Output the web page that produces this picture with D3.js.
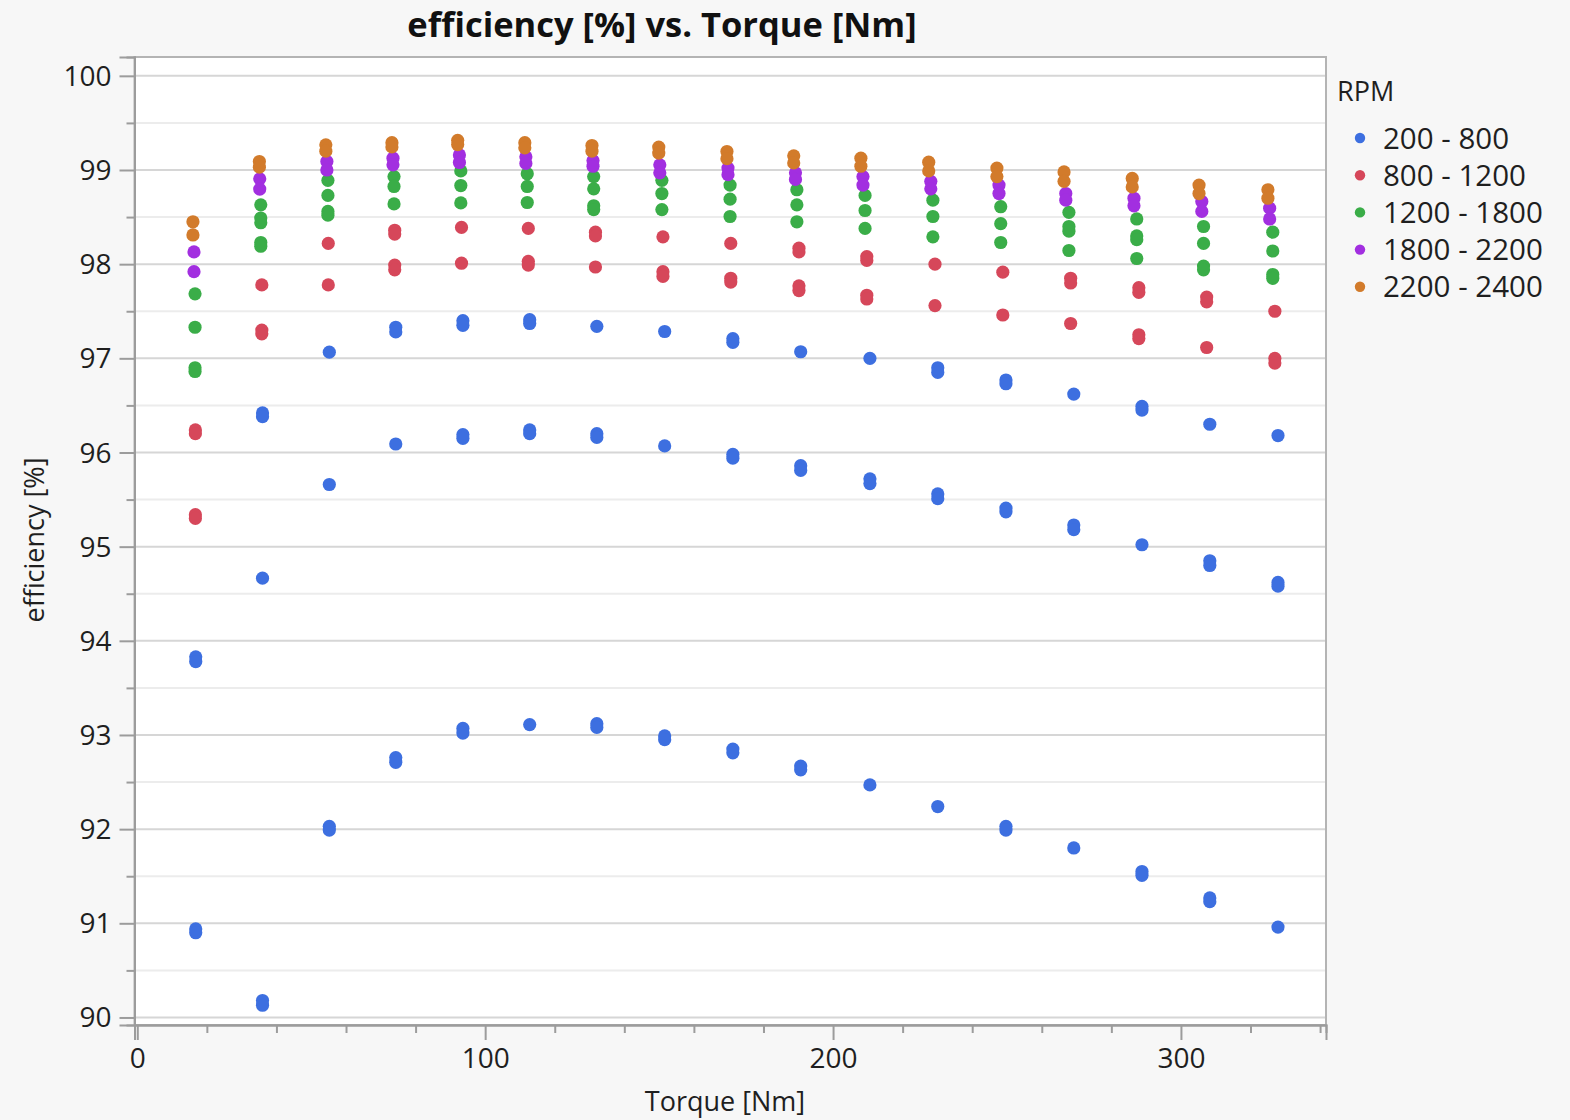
<!DOCTYPE html>
<html>
<head>
<meta charset="utf-8">
<script src="https://cdn.jsdelivr.net/npm/d3@7"></script>
<style>
  body { margin: 0; background: #f7f7f7; }
  svg { display: block; font-family: "Open Sans", "Noto Sans", sans-serif; }
</style>
</head>
<body>
<svg id="chart" width="1570" height="1120"></svg>
<script>
// ---- data -------------------------------------------------------------
// RPM bands shown in the legend
const rpmBands = ["200 - 800", "800 - 1200", "1200 - 1800", "1800 - 2200", "2200 - 2400"];
const bandColors = ["#3d6fe0", "#d6475a", "#3aad48", "#a22fe0", "#d27b2b"];

// Torque [Nm] of each measured column, per band
const torque200 = [16.8, 36.0, 55.2, 74.3, 93.6, 112.8, 132.1, 151.6, 171.2, 190.7, 210.6, 230.1, 249.7, 269.2, 288.8, 308.3, 327.9];
const torque800 = [16.7, 35.8, 54.9, 74.0, 93.2, 112.4, 131.7, 151.1, 170.6, 190.2, 209.7, 229.3, 248.8, 268.3, 287.9, 307.4, 327.0];
const torque1200 = [16.6, 35.5, 54.8, 73.8, 93.0, 112.1, 131.2, 150.8, 170.4, 189.6, 209.2, 228.7, 248.2, 267.8, 287.3, 306.5, 326.4];
const torque1800 = [16.3, 35.2, 54.5, 73.5, 92.6, 111.7, 131.0, 150.2, 169.8, 189.2, 208.6, 228.1, 247.7, 266.9, 286.5, 306.0, 325.5];
const torque2200 = [16.0, 35.1, 54.2, 73.2, 92.1, 111.4, 130.7, 149.9, 169.5, 188.7, 208.0, 227.5, 247.1, 266.4, 286.0, 305.2, 325.0];

// Efficiency [%] per operating speed; a pair means two repeated samples, null = not measured
const eff200a = [[93.83, 93.78], [96.42, 96.38], 97.065, [97.33, 97.28], [97.40, 97.35], [97.41, 97.37], 97.34, 97.285, [97.21, 97.17], 97.07, 97.00, [96.90, 96.85], [96.77, 96.73], 96.62, [96.49, 96.45], 96.30, 96.18];
const eff200b = [[90.94, 90.90], 94.665, 95.66, 96.09, [96.19, 96.15], [96.24, 96.20], [96.20, 96.16], 96.07, [95.98, 95.94], [95.86, 95.81], [95.72, 95.67], [95.56, 95.51], [95.41, 95.37], [95.23, 95.18], 95.02, [94.85, 94.80], [94.62, 94.58]];
const eff200c = [null, [90.18, 90.13], [92.03, 91.99], [92.76, 92.71], [93.07, 93.02], 93.11, [93.12, 93.08], [92.99, 92.95], [92.85, 92.81], [92.67, 92.63], 92.47, 92.24, [92.03, 91.99], 91.80, [91.55, 91.51], [91.27, 91.23], 90.96];

const eff800a = [[96.24, 96.20], 97.78, 98.22, [98.36, 98.32], 98.39, 98.38, [98.34, 98.30], 98.29, 98.22, [98.17, 98.13], [98.08, 98.04], 98.00, 97.915, [97.85, 97.80], [97.75, 97.70], [97.65, 97.60], 97.50];
const eff800b = [[95.34, 95.30], [97.30, 97.26], 97.78, [97.99, 97.94], 98.01, [98.03, 97.99], 97.97, [97.92, 97.87], [97.85, 97.81], [97.77, 97.72], [97.67, 97.63], 97.56, 97.46, 97.37, [97.25, 97.21], 97.115, [97.00, 96.95]];

const eff1200a = [97.685, 98.63, 98.89, 98.93, 98.99, 98.96, 98.93, 98.89, 98.84, 98.79, 98.73, 98.68, 98.61, 98.55, 98.48, 98.40, 98.34];
const eff1200b = [97.33, [98.49, 98.44], 98.73, 98.825, 98.835, 98.825, 98.80, 98.75, 98.69, 98.63, 98.57, 98.506, 98.43, [98.40, 98.35], [98.30, 98.26], 98.22, 98.14];
const eff1200c = [[96.90, 96.86], [98.23, 98.19], [98.56, 98.52], 98.64, 98.65, 98.655, [98.62, 98.58], 98.58, 98.506, 98.45, 98.38, 98.29, 98.23, 98.145, 98.06, [97.98, 97.94], [97.89, 97.85]];

const eff1800a = [98.13, 98.906, 99.09, 99.126, 99.16, 99.14, 99.10, 99.055, 99.02, 98.97, 98.93, 98.88, 98.84, 98.75, 98.70, 98.665, 98.595];
const eff1800b = [97.92, 98.797, 99.00, 99.055, 99.08, 99.07, 99.04, 98.97, 98.95, 98.90, 98.84, 98.80, 98.75, 98.68, 98.62, 98.56, 98.48];

const eff2200a = [98.45, 99.09, 99.267, 99.29, 99.315, 99.29, 99.26, 99.243, 99.196, 99.15, 99.126, 99.083, 99.02, 98.98, 98.91, 98.84, 98.79];
const eff2200b = [98.31, 99.03, 99.20, 99.245, 99.27, 99.235, 99.20, 99.18, 99.12, 99.075, 99.04, 98.99, 98.93, 98.88, 98.82, 98.75, 98.70];

// Axis tick labels
const yTickLabels = [90, 91, 92, 93, 94, 95, 96, 97, 98, 99, 100];
const xTickLabels = [0, 100, 200, 300];

// ---- assemble points --------------------------------------------------
const bands = [
  { torque: torque200, runs: [eff200a, eff200b, eff200c] },
  { torque: torque800, runs: [eff800a, eff800b] },
  { torque: torque1200, runs: [eff1200a, eff1200b, eff1200c] },
  { torque: torque1800, runs: [eff1800a, eff1800b] },
  { torque: torque2200, runs: [eff2200a, eff2200b] }
];

const points = [];
bands.forEach((b, bi) => {
  b.runs.forEach(run => {
    run.forEach((v, i) => {
      if (v === null) return;
      const vals = Array.isArray(v) ? v : [v];
      vals.forEach(e => points.push({ band: bi, torque: b.torque[i], eff: e }));
    });
  });
});

// ---- layout -----------------------------------------------------------
const svg = d3.select("#chart");
const plot = { left: 134.5, right: 1326, top: 57, bottom: 1025 };

const x = d3.scaleLinear().domain([-0.8, 341.7]).range([plot.left, plot.right]);
const y = d3.scaleLinear().domain([89.92, 100.2]).range([plot.bottom, plot.top]);

// plot background and frame
svg.append("rect")
  .attr("x", plot.left).attr("y", plot.top)
  .attr("width", plot.right - plot.left).attr("height", plot.bottom - plot.top)
  .attr("fill", "#ffffff").attr("stroke", "#b4b4b4").attr("stroke-width", 2);

// horizontal grid: integers darker, halves lighter
const minorY = d3.range(90.5, 100, 1);
svg.append("g").selectAll("line").data(minorY).join("line")
  .attr("x1", plot.left + 1).attr("x2", plot.right - 1)
  .attr("y1", d => y(d)).attr("y2", d => y(d))
  .attr("stroke", "#ececec").attr("stroke-width", 2);
svg.append("g").selectAll("line").data(yTickLabels).join("line")
  .attr("x1", plot.left + 1).attr("x2", plot.right - 1)
  .attr("y1", d => y(d)).attr("y2", d => y(d))
  .attr("stroke", "#d6d6d6").attr("stroke-width", 2);

// ---- axes -------------------------------------------------------------
const axisColor = "#9c9c9c";
const textColor = "#1f1f1f";

const yAxis = svg.append("g").attr("transform", `translate(${plot.left},0)`)
  .call(d3.axisLeft(y).tickValues(yTickLabels).tickSize(15).tickPadding(8).tickFormat(d3.format("d")));
const yMinor = svg.append("g").attr("transform", `translate(${plot.left},0)`)
  .call(d3.axisLeft(y).tickValues(minorY).tickSize(8).tickFormat(""));

const xMinor = d3.range(20, 341, 20).filter(v => v % 100 !== 0);
const xAxis = svg.append("g").attr("transform", `translate(0,${plot.bottom})`)
  .call(d3.axisBottom(x).tickValues(xTickLabels).tickSize(15).tickPadding(6).tickFormat(d3.format("d")));
const xMinorAxis = svg.append("g").attr("transform", `translate(0,${plot.bottom})`)
  .call(d3.axisBottom(x).tickValues(xMinor).tickSize(8).tickFormat(""));

[yAxis, yMinor, xAxis, xMinorAxis].forEach(g => {
  g.select(".domain").attr("stroke", axisColor).attr("stroke-width", 2);
  g.selectAll(".tick line").attr("stroke", axisColor).attr("stroke-width", 2);
  g.selectAll(".tick text").attr("fill", textColor)
    .style("font-size", "28px").style("font-family", "\"Open Sans\", sans-serif");
});
yAxis.selectAll(".tick text").attr("dy", "0.34em");
xAxis.selectAll(".tick text").attr("dy", "0.78em");

// ---- points -----------------------------------------------------------
svg.append("g").selectAll("circle").data(points).join("circle")
  .attr("cx", d => x(d.torque))
  .attr("cy", d => y(d.eff))
  .attr("r", 6.6)
  .attr("fill", d => bandColors[d.band]);

// ---- titles -----------------------------------------------------------
svg.append("text")
  .attr("x", 662).attr("y", 37)
  .attr("text-anchor", "middle")
  .attr("fill", "#111")
  .style("font-size", "34.5px").style("font-weight", "bold")
  .text("efficiency [%] vs. Torque [Nm]");

svg.append("text")
  .attr("x", 725).attr("y", 1111)
  .attr("text-anchor", "middle")
  .attr("fill", textColor)
  .style("font-size", "27px")
  .text("Torque [Nm]");

svg.append("text")
  .attr("transform", "translate(44,540) rotate(-90)")
  .attr("text-anchor", "middle")
  .attr("fill", textColor)
  .style("font-size", "27px")
  .text("efficiency [%]");

// ---- legend -----------------------------------------------------------
const legend = svg.append("g");
legend.append("text")
  .attr("x", 1337).attr("y", 101)
  .attr("fill", textColor)
  .style("font-size", "27px")
  .text("RPM");
const rows = legend.selectAll("g.row").data(rpmBands).join("g")
  .attr("class", "row")
  .attr("transform", (d, i) => `translate(0,${138 + i * 37.2})`);
rows.append("circle").attr("cx", 1360).attr("cy", 0).attr("r", 5.2)
  .attr("fill", (d, i) => bandColors[i]);
rows.append("text").attr("x", 1383).attr("y", 0).attr("dy", "0.36em")
  .attr("fill", textColor)
  .style("font-size", "29.5px")
  .text(d => d);
</script>
</body>
</html>
